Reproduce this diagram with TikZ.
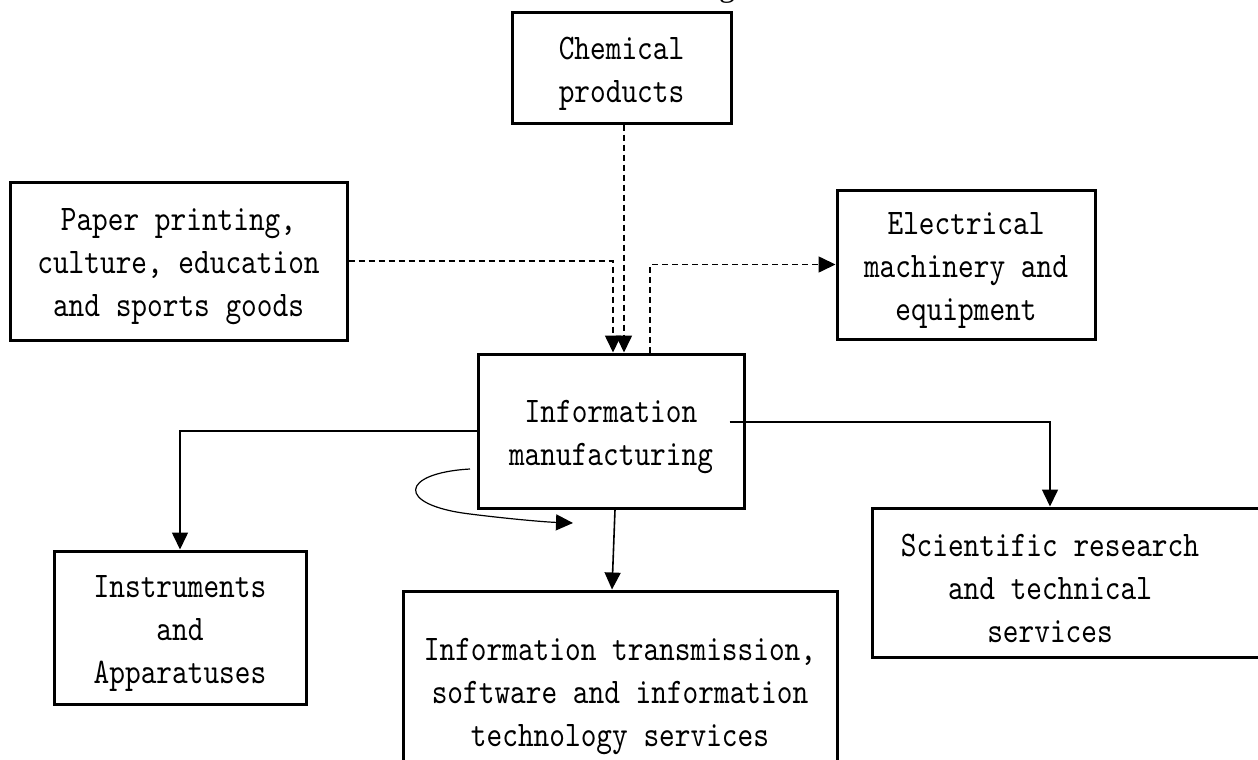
\documentclass[tikz,border=0pt]{standalone}
\usepackage{fontspec}
\setmainfont{Liberation Serif}
\newfontfamily\boxfont{lmmono10-regular.otf}[FakeStretch=0.83]
\usetikzlibrary{arrows.meta}
\begin{document}
\begin{tikzpicture}[x=1pt,y=-1pt,
  box/.style={draw, line width=3pt, rectangle, inner sep=0pt},
  txt/.style={align=center, font=\boxfont\fontsize{36}{43}\selectfont, inner sep=0pt, yshift=-6pt},
  conn/.style={line width=1.6pt, -{Triangle[length=17pt,width=16pt]}},
  dconn/.style={conn, dash pattern=on 6pt off 4pt}]
\useasboundingbox (0,0) rectangle (1258,760);
\clip (0,0) rectangle (1258,760);
\fill[white] (0,0) rectangle (1258,760);

\node[anchor=base, font=\fontsize{32}{38}\selectfont] (capg) at (727,-3) {g};

\node[box, minimum width=219pt, minimum height=110pt,
      label={[txt]center:{Chemical\\products}}] (chem) at (621.5,68) {};
\node[box, minimum width=337pt, minimum height=158pt,
      label={[txt]center:{Paper printing,\\culture, education\\and sports goods}}] (paper) at (178.5,261) {};
\node[box, minimum width=258pt, minimum height=149pt,
      label={[txt]center:{Electrical\\machinery and\\equipment}}] (elec) at (966,264.5) {};
\node[box, minimum width=266pt, minimum height=154pt,
      label={[txt]center:{Information\\manufacturing}}] (info) at (611,431) {};
\node[box, minimum width=252pt, minimum height=153pt,
      label={[txt]center:{Instruments\\and\\Apparatuses}}] (instr) at (180,627.5) {};
\node[box, minimum width=434pt, minimum height=200pt,
      label={[txt]center:{Information transmission,\\software and information\\technology services}}] (trans) at (620,691) {};
\node[box, minimum width=398pt, minimum height=149pt,
      label={[txt, xshift=-21pt]center:{Scientific research\\and technical\\services}}] (sci) at (1071,582.5) {};

\draw[dconn] (paper.east) -| ([xshift=2pt]info.north);
\draw[dconn] ([xshift=2.5pt]chem.south) -- ([xshift=13pt]info.north);
\draw[dconn] ([xshift=39pt]info.north) |- (elec.west);
\draw[conn] (info.west) -| (instr.north);
\draw[conn] ([xshift=-16pt,yshift=9pt]info.east) -| ([xshift=-21pt]sci.north);
\draw[conn] ([xshift=4pt]info.south) -- ([xshift=-8pt]trans.north);

\coordinate (la) at (470,469);
\coordinate (lb) at (573,523);
\draw[conn, line width=1.2pt] (la) .. controls (400,473) and (395,505) .. (470,514)
   .. controls (510,519) and (545,522) .. (lb);
\end{tikzpicture}
\end{document}
